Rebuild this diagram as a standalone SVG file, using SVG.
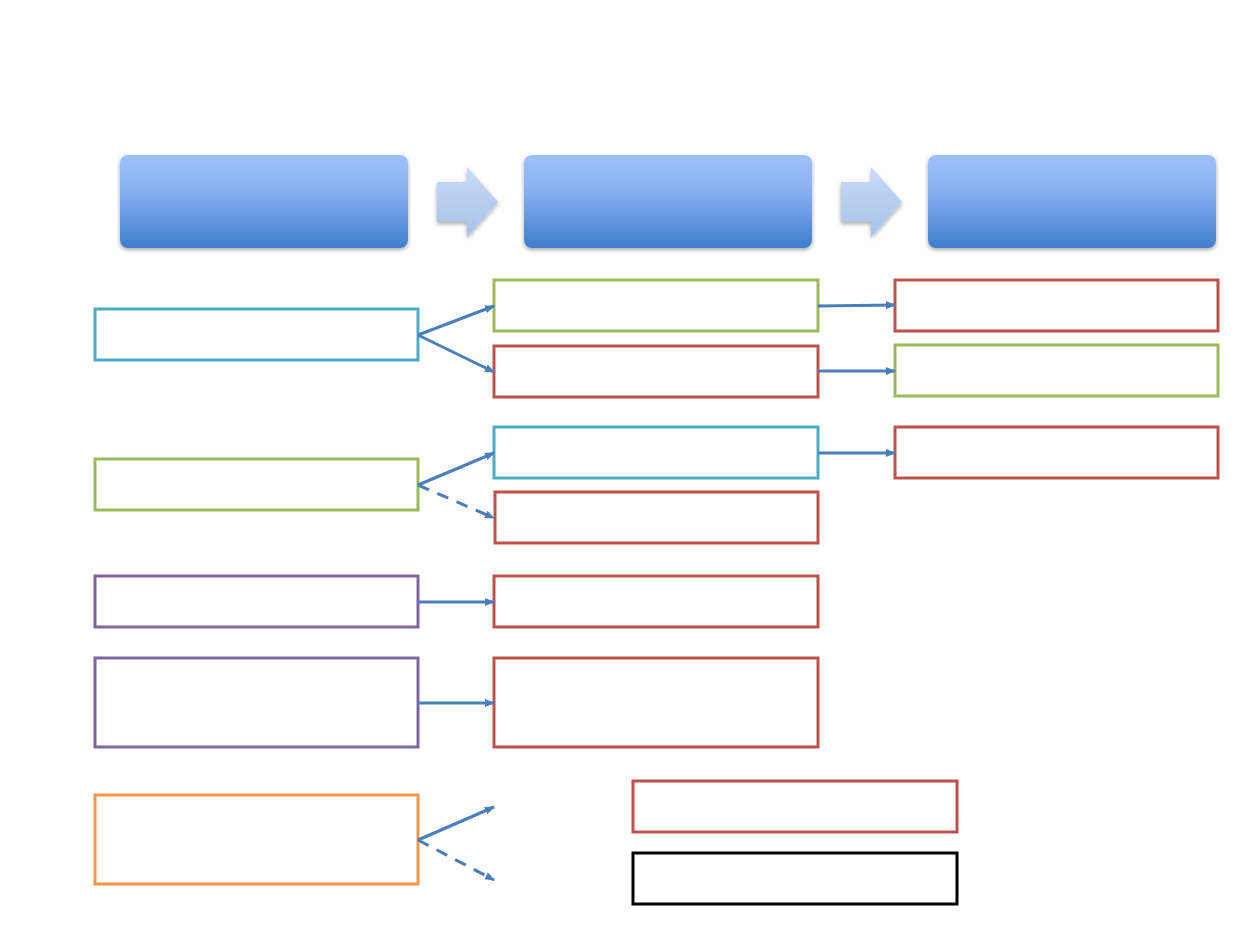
<svg xmlns="http://www.w3.org/2000/svg" width="1260" height="945" viewBox="0 0 1260 945">
<defs>
<linearGradient id="hg" x1="0" y1="0" x2="0" y2="1">
<stop offset="0" stop-color="#9dc1ff"/>
<stop offset="0.35" stop-color="#8cb2f3"/>
<stop offset="1" stop-color="#3e7fcd"/>
</linearGradient>
<linearGradient id="ag" x1="0" y1="0" x2="0" y2="1">
<stop offset="0" stop-color="#c8dbf8"/>
<stop offset="1" stop-color="#a8c0e8"/>
</linearGradient>
<filter id="sh" x="-10%" y="-10%" width="120%" height="130%">
<feGaussianBlur in="SourceAlpha" stdDeviation="2"/>
<feOffset dx="0" dy="2" result="b"/>
<feComponentTransfer><feFuncA type="linear" slope="0.35"/></feComponentTransfer>
<feMerge><feMergeNode/><feMergeNode in="SourceGraphic"/></feMerge>
</filter>
<marker id="ah" markerWidth="10" markerHeight="8" refX="9" refY="4" orient="auto" markerUnits="userSpaceOnUse">
<path d="M0,0 L10,4 L0,8 Z" fill="#4a7ebb"/>
</marker>
</defs>
<style>
.box{fill:#fff;stroke-width:3}
.cy{stroke:#4bacc6}.gr{stroke:#9bbb59}.pu{stroke:#8064a2}.or{stroke:#f79646}.rd{stroke:#c0504d}.bk{stroke:#000}
.con{stroke:#4a7ebb;stroke-width:3;fill:none;marker-end:url(#ah)}
.dash{stroke-dasharray:12,9}
</style>
<rect width="1260" height="945" fill="#fff"/>
<g id="headers">
<g id="h1"><rect x="120" y="155" width="288" height="93" rx="8" fill="url(#hg)" filter="url(#sh)"/></g>
<g id="a1"><path d="M437,182 H467 V167 L498,202 L467,237 V222 H437 Z" fill="url(#ag)" filter="url(#sh)"/></g>
<g id="h2"><rect x="524" y="155" width="288" height="93" rx="8" fill="url(#hg)" filter="url(#sh)"/></g>
<g id="a2"><path d="M841,182 H871 V167 L902,202 L871,237 V222 H841 Z" fill="url(#ag)" filter="url(#sh)"/></g>
<g id="h3"><rect x="928" y="155" width="288" height="93" rx="8" fill="url(#hg)" filter="url(#sh)"/></g>
</g>
<g id="L1"><rect class="box cy" x="95" y="309" width="323" height="51"/></g>
<g id="L2"><rect class="box gr" x="95" y="459" width="323" height="51"/></g>
<g id="L3"><rect class="box pu" x="95" y="576" width="323" height="51"/></g>
<g id="L4"><rect class="box pu" x="95" y="658" width="323" height="89"/></g>
<g id="L5"><rect class="box or" x="95" y="795" width="323" height="89"/></g>
<g id="M1"><rect class="box gr" x="494" y="280" width="324" height="51"/></g>
<g id="M2"><rect class="box rd" x="494" y="346" width="324" height="51"/></g>
<g id="M3"><rect class="box cy" x="494" y="427" width="324" height="51"/></g>
<g id="M4"><rect class="box rd" x="495" y="492" width="323" height="51"/></g>
<g id="M5"><rect class="box rd" x="494" y="576" width="324" height="51"/></g>
<g id="M6"><rect class="box rd" x="494" y="658" width="324" height="89"/></g>
<g id="R1"><rect class="box rd" x="895" y="280" width="323" height="51"/></g>
<g id="R2"><rect class="box gr" x="895" y="345" width="323" height="51"/></g>
<g id="R3"><rect class="box rd" x="895" y="427" width="323" height="51"/></g>
<g id="B1"><rect class="box rd" x="633" y="781" width="324" height="51"/></g>
<g id="B2"><rect class="box bk" x="633" y="853" width="324" height="51"/></g>
<g id="connectors">
<line class="con" x1="418" y1="335" x2="494" y2="306"/>
<line class="con" x1="418" y1="335" x2="494" y2="372"/>
<line class="con" x1="418" y1="485" x2="494" y2="453"/>
<line class="con dash" x1="418" y1="485" x2="494" y2="518"/>
<line class="con" x1="418" y1="602" x2="494" y2="602"/>
<line class="con" x1="418" y1="703" x2="494" y2="703"/>
<line class="con" x1="418" y1="840" x2="494" y2="807"/>
<line class="con dash" x1="418" y1="840" x2="494" y2="880"/>
<line class="con" x1="818" y1="306" x2="895" y2="305"/>
<line class="con" x1="818" y1="371" x2="895" y2="371"/>
<line class="con" x1="818" y1="453" x2="895" y2="453"/>
</g>
</svg>
